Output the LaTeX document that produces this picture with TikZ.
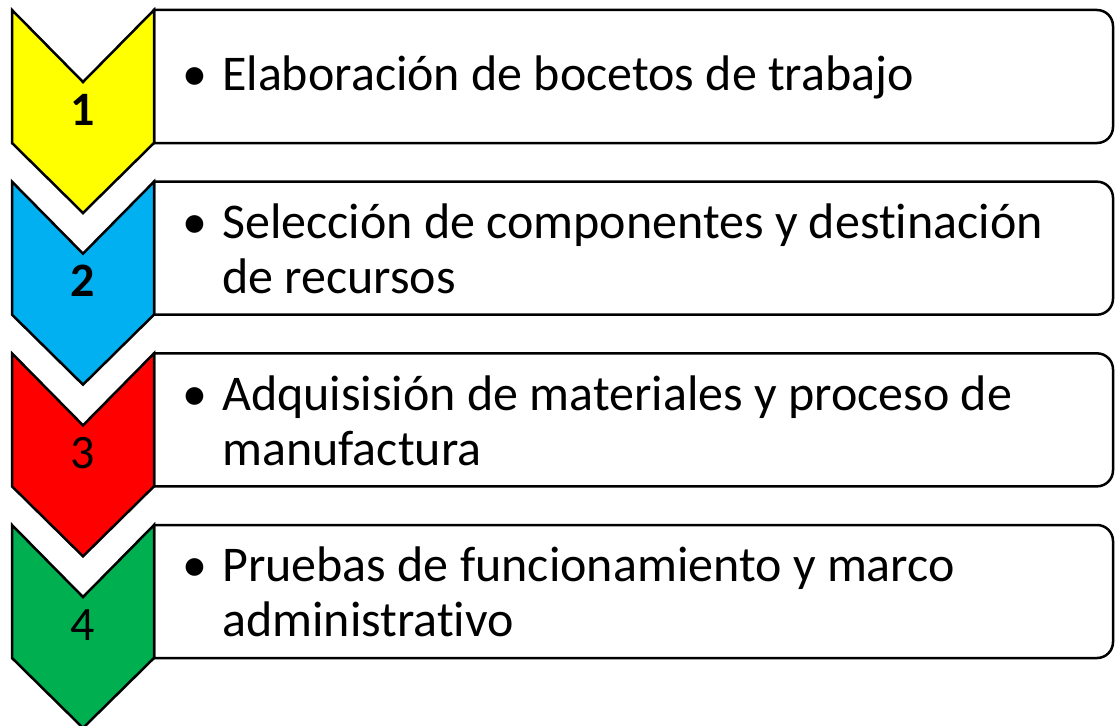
\documentclass[tikz,border=0pt]{standalone}
\usepackage{fontspec}
\setmainfont{Carlito}[Ligatures=NoCommon]
\usepackage{tikz}

\definecolor{stepyellow}{HTML}{FFFF00}
\definecolor{stepblue}{HTML}{00B0F0}
\definecolor{stepred}{HTML}{FF0000}
\definecolor{stepgreen}{HTML}{00B050}

\begin{document}
\begin{tikzpicture}[
    x=1pt, y=-1pt,
    chevron/.style={draw=black, line width=2.5pt, line join=miter},
    textbox/.style={draw=black, line width=2.5pt, fill=white},
    stepnum/.style={anchor=base, inner sep=0pt, font=\fontsize{48}{52}\selectfont},
    steptext/.style={anchor=west, align=left, inner sep=0pt, font=\fontsize{50}{55}\selectfont}
]
\useasboundingbox (0,0) rectangle (1115,725);

\foreach \i/\col/\num/\txt in {
    1/stepyellow/{\bfseries 1}/{Elaboración de bocetos de trabajo},
    2/stepblue/{\bfseries 2}/{Selección de componentes y destinación\\de recursos},
    3/stepred/{3}/{Adquisisión de materiales y proceso de\\manufactura},
    4/stepgreen/{4}/{Pruebas de funcionamiento y marco\\administrativo}} {
  \pgfmathsetmacro{\ytop}{10+171.67*(\i-1)}
  % box with rounded right corners
  \draw[textbox] (154,\ytop) -- (1097,\ytop)
    arc[start angle=-90, end angle=0, radius=16] -- (1113,\ytop+117)
    arc[start angle=0, end angle=90, radius=16] -- (154,\ytop+133) -- cycle;
  % chevron
  \draw[chevron, fill=\col] (12,\ytop) -- (83,\ytop+72) -- (154,\ytop)
    -- (154,\ytop+133) -- (83,\ytop+203) -- (12,\ytop+133) -- cycle;
  \node[stepnum] (num\i) at (83,\ytop+115) {\num};
  \node[steptext] (txt\i) at (222,\ytop+67) {\llap{•\hspace{15pt}}\txt};
}
\end{tikzpicture}
\end{document}
